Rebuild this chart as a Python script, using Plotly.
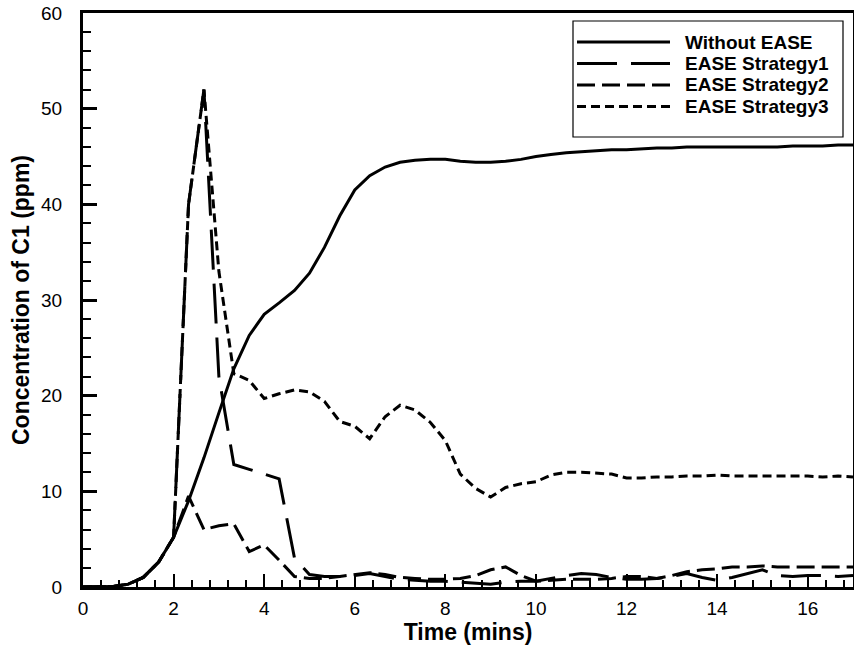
import plotly.graph_objects as go

# ---- data ----
time_min = [0, 0.33, 0.67, 1.0, 1.33, 1.67, 2.0, 2.33, 2.67, 3.0, 3.33, 3.67, 4.0, 4.33,
            4.67, 5.0, 5.33, 5.67, 6.0, 6.33, 6.67, 7.0, 7.33, 7.67, 8.0, 8.33, 8.67, 9.0,
            9.33, 9.67, 10.0, 10.33, 10.67, 11.0, 11.33, 11.67, 12.0, 12.33, 12.67, 13.0,
            13.33, 13.67, 14.0, 14.33, 14.67, 15.0, 15.33, 15.67, 16.0, 16.33, 16.67, 17.0]

without_ease = [0, 0, 0.05, 0.3, 1.0, 2.6, 5.2, 9.0, 13.5, 18.2, 22.8, 26.3, 28.5, 29.7,
                31.0, 32.8, 35.5, 38.8, 41.5, 43.0, 43.9, 44.4, 44.6, 44.7, 44.7, 44.5, 44.4, 44.4,
                44.5, 44.7, 45.0, 45.2, 45.4, 45.5, 45.6, 45.7, 45.7, 45.8, 45.9, 45.9,
                46.0, 46.0, 46.0, 46.0, 46.0, 46.0, 46.0, 46.1, 46.1, 46.1, 46.2, 46.2]

strategy1 = [0, 0, 0.05, 0.3, 1.0, 2.6, 5.2, 40.0, 52.0, 22.0, 12.8, 12.3, 11.8, 11.3,
             3.0, 1.3, 1.1, 1.1, 1.2, 1.4, 1.1, 0.8, 0.7, 0.6, 0.6, 0.5, 0.4, 0.3,
             0.5, 0.6, 0.6, 0.9, 1.2, 1.4, 1.3, 1.0, 0.8, 0.8, 0.9, 1.1,
             1.4, 1.0, 0.7, 1.0, 1.4, 1.8, 1.2, 1.1, 1.2, 1.2, 1.1, 1.2]

strategy2 = [0, 0, 0.05, 0.3, 1.0, 2.6, 5.2, 9.5, 6.0, 6.4, 6.6, 3.7, 4.4, 2.8,
             1.1, 0.9, 0.9, 1.1, 1.3, 1.5, 1.3, 1.0, 0.9, 0.8, 0.8, 0.9, 1.2, 1.8,
             2.1, 1.2, 0.6, 0.7, 0.8, 0.8, 0.8, 0.9, 1.1, 1.1, 0.9, 1.2,
             1.6, 1.8, 1.9, 2.1, 2.1, 2.2, 2.1, 2.1, 2.1, 2.1, 2.1, 2.1]

strategy3 = [0, 0, 0.05, 0.3, 1.0, 2.6, 5.2, 40.0, 52.0, 33.0, 22.3, 21.6, 19.7, 20.2,
             20.6, 20.4, 19.4, 17.3, 16.8, 15.5, 17.8, 19.0, 18.5, 17.2, 15.3, 11.8, 10.3, 9.4,
             10.4, 10.8, 11.0, 11.7, 12.0, 12.0, 11.9, 11.8, 11.4, 11.4, 11.5, 11.5,
             11.6, 11.6, 11.7, 11.6, 11.6, 11.6, 11.6, 11.6, 11.6, 11.5, 11.6, 11.5]

series_names = ["Without EASE", "EASE Strategy1", "EASE Strategy2", "EASE Strategy3"]
series_values = [without_ease, strategy1, strategy2, strategy3]
series_dash = ["solid", "40px,14px", "18px,7px", "9px,5px"]

x_ticks = [0, 2, 4, 6, 8, 10, 12, 14, 16]
y_ticks = [0, 10, 20, 30, 40, 50, 60]

TICK_FONT = dict(family="Liberation Sans, Arial", size=19, color="black")
TITLE_FONT = dict(family="Liberation Sans, Arial", size=23, color="black", weight="bold")
LEG_FONT = dict(family="Liberation Sans, Arial", size=19, color="black", weight="bold")

fig = go.Figure()
for name, vals, dash in zip(series_names, series_values, series_dash):
    fig.add_trace(go.Scatter(x=time_min, y=vals, mode="lines", name=name,
                             line=dict(color="black", width=3, dash=dash),
                             showlegend=False))

# manual legend (box + samples + labels) in paper coordinates
L, R, T, B = 83, 853, 13, 587
W, H = R - L, B - T
def px(x):
    return (x - L) / W
def py(y):
    return (B - y) / H

shapes = [dict(type="rect", xref="paper", yref="paper",
               x0=px(573), x1=px(843), y0=py(137), y1=py(21),
               line=dict(color="black", width=1.2), fillcolor="white", layer="above")]
annotations = []
rows = [42, 63.5, 85, 106.5]
for name, dash, ry in zip(series_names, series_dash, rows):
    shapes.append(dict(type="line", xref="paper", yref="paper",
                       x0=px(577), x1=px(670), y0=py(ry), y1=py(ry),
                       line=dict(color="black", width=3, dash=dash), layer="above"))
    annotations.append(dict(xref="paper", yref="paper", x=px(683), y=py(ry),
                            xanchor="left", yanchor="middle", text=name,
                            showarrow=False, font=LEG_FONT))

axis_common = dict(showline=True, linecolor="black", linewidth=3, mirror=True,
                   showgrid=False, zeroline=False, ticks="inside", tickcolor="black",
                   tickfont=TICK_FONT, automargin=False)

fig.update_layout(
    width=854, height=649,
    margin=dict(l=L, r=854 - R, t=T, b=649 - B),
    paper_bgcolor="white", plot_bgcolor="white",
    shapes=shapes, annotations=annotations,
    xaxis=dict(range=[0, 17], tickvals=x_ticks, ticklen=13, tickwidth=2,
               minor=dict(dtick=0.4, tick0=0, ticks="inside", ticklen=7, tickwidth=1.5, tickcolor="black"),
               title=dict(text="Time (mins)", font=TITLE_FONT, standoff=5),
               ticklabelstandoff=2, **axis_common),
    yaxis=dict(range=[0, 60], tickvals=y_ticks, ticklen=14, tickwidth=2.5,
               minor=dict(dtick=2, tick0=0, ticks="inside", ticklen=8, tickwidth=1.5, tickcolor="black"),
               title=dict(text="Concentration of C1 (ppm)", font=TITLE_FONT, standoff=6),
               ticklabelstandoff=14, **axis_common),
)

fig.write_html("out.html", config={"displayModeBar": False},
               post_script="document.body.style.margin='0';document.body.style.overflow='hidden';")
